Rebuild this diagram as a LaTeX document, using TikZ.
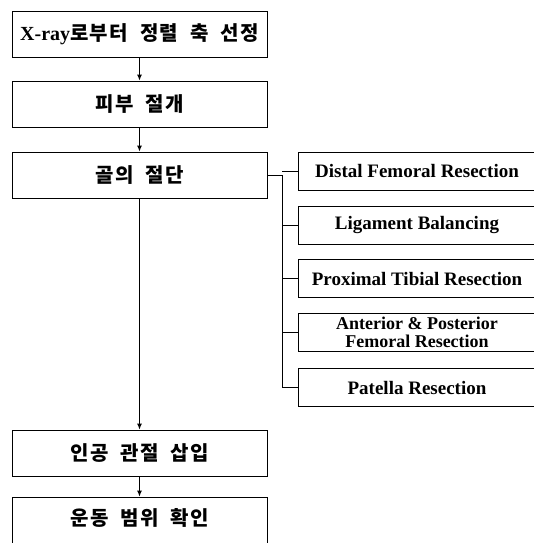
\documentclass[tikz,border=0pt]{standalone}
\usepackage{fontspec}
\setmainfont{Liberation Serif}
\newfontfamily\kr[WordSpace=2.0,LetterSpace=7]{Noto Sans CJK KR}
\usetikzlibrary{arrows.meta}
\tikzset{
  lbox/.style={draw, line width=0.9pt, minimum width=255pt, minimum height=46pt, inner sep=0pt,
    font=\kr\bfseries\fontsize{20}{22}\selectfont},
  rbox/.style={draw, line width=0.9pt, minimum width=238pt, minimum height=38pt, inner sep=0pt,
    align=center, font=\bfseries\fontsize{19}{16}\selectfont},
  arr/.style={line width=0.9pt, -{Latex[length=6pt,width=5pt]}},
  wire/.style={line width=0.9pt}
}
\begin{document}
\begin{tikzpicture}[x=1pt,y=-1pt]
\useasboundingbox (0,0) rectangle (533,543);
\node[lbox] (b1) at (139.5,34.5) {{\rmfamily X-ray}로부터 정렬 축 선정};
\node[lbox] (b2) at (139.5,104) {피부 절개};
\node[lbox] (b3) at (139.5,175) {골의 절단};
\node[lbox] (b4) at (139.5,453) {인공 관절 삽입};
\node[lbox, minimum height=48pt] (b5) at (139.5,521) {\raisebox{8pt}{운동 범위 확인}};
\node[rbox] (r1) at (417,171) {Distal Femoral Resection};
\node[rbox] (r2) at (417,225.5) {Ligament Balancing};
\node[rbox] (r3) at (417,278.5) {Proximal Tibial Resection};
\node[rbox, font=\bfseries\fontsize{18}{17.5}\selectfont] (r4) at (417,332.5) {Anterior \& Posterior\\Femoral Resection};
\node[rbox] (r5) at (417,387.5) {Patella Resection};
\draw[arr] (b1) -- (b2);
\draw[arr] (b2) -- (b3);
\draw[arr] (b3) -- (b4);
\draw[arr] (b4) -- (b5);
\coordinate (bus) at (282,175);
\draw[wire] (b3.east) -- (bus) |- (r5.west);
\draw[wire] (bus |- r1.west) -- (r1.west);
\draw[wire] (bus |- r2.west) -- (r2.west);
\draw[wire] (bus |- r3.west) -- (r3.west);
\draw[wire] (bus |- r4.west) -- (r4.west);
\end{tikzpicture}
\end{document}
